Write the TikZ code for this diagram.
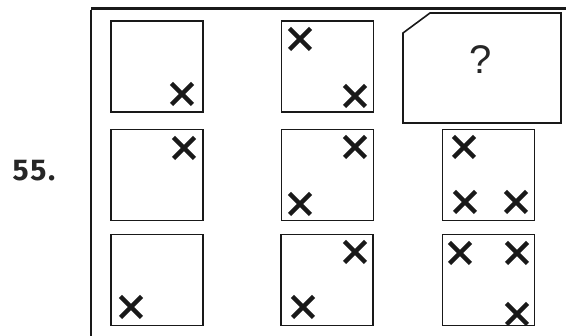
\documentclass[tikz,border=0pt]{standalone}
\usepackage{fontspec}
\setmainfont{Liberation Sans}
\newfontfamily\numfont[LetterSpace=6]{Fira Sans}
\tikzset{
  cell/.style={draw=black!90, line width=1.6pt, minimum width=92pt, minimum height=91pt, inner sep=0pt},
  qbox/.style={draw=black!90, line width=1.6pt},
  frame/.style={draw=black!90},
  xm/.pic={\draw[line width=4.4pt, black!90] (-10.5,-10.5) -- (10.5,10.5) (-10.5,10.5) -- (10.5,-10.5);}
}
\begin{document}
\begin{tikzpicture}[x=1pt, y=-1pt]
\useasboundingbox (0,0) rectangle (566,336);
\fill[white] (0,0) rectangle (566,336);
% outer frame
\coordinate (ftr) at (566,9);
\coordinate (ftl) at (91,9);
\coordinate (fbl) at (91,336);
\draw[frame, line width=3pt] (ftr) -- (ftl);
\draw[frame, line width=2.4pt] ([yshift=-1.5pt]ftl) -- (fbl);
% label
\node[font=\numfont\bfseries\fontsize{30}{30}\selectfont, inner sep=0pt, text=black!85] (num) at (34,171) {55.};
% cells
\node[cell] (r1c1) at (157,66.5) {};
\node[cell] (r1c2) at (327.5,66.5) {};
\node[cell] (r2c1) at (157,175) {};
\node[cell] (r2c2) at (327.5,175) {};
\node[cell] (r2c3) at (488.5,175) {};
\node[cell] (r3c1) at (157,280) {};
\node[cell] (r3c2) at (327,280) {};
\node[cell] (r3c3) at (488.5,280) {};
% question box
\draw[qbox] (430,13) -- (561,13) -- (561,123) -- (403,123) -- (403,33) -- cycle;
\node[font=\fontsize{40}{40}\selectfont, inner sep=0pt, text=black!85] (qm) at (481,60) {?};
% crosses
\pic at ([shift={(25,27.5)}]r1c1.center) {xm};
\pic at ([shift={(-27.5,-27.5)}]r1c2.center) {xm};
\pic at ([shift={(27.5,29.5)}]r1c2.center) {xm};
\pic at ([shift={(27,-27)}]r2c1.center) {xm};
\pic at ([shift={(27.5,-28)}]r2c2.center) {xm};
\pic at ([shift={(-27.5,29)}]r2c2.center) {xm};
\pic at ([shift={(-24.5,-28)}]r2c3.center) {xm};
\pic at ([shift={(-23.5,27)}]r2c3.center) {xm};
\pic at ([shift={(27.5,27)}]r2c3.center) {xm};
\pic at ([shift={(-26,27)}]r3c1.center) {xm};
\pic at ([shift={(28,-28)}]r3c2.center) {xm};
\pic at ([shift={(-24,27)}]r3c2.center) {xm};
\pic at ([shift={(-28.5,-27)}]r3c3.center) {xm};
\pic at ([shift={(28.5,-27)}]r3c3.center) {xm};
\pic at ([shift={(28.5,34)}]r3c3.center) {xm};
\end{tikzpicture}
\end{document}
